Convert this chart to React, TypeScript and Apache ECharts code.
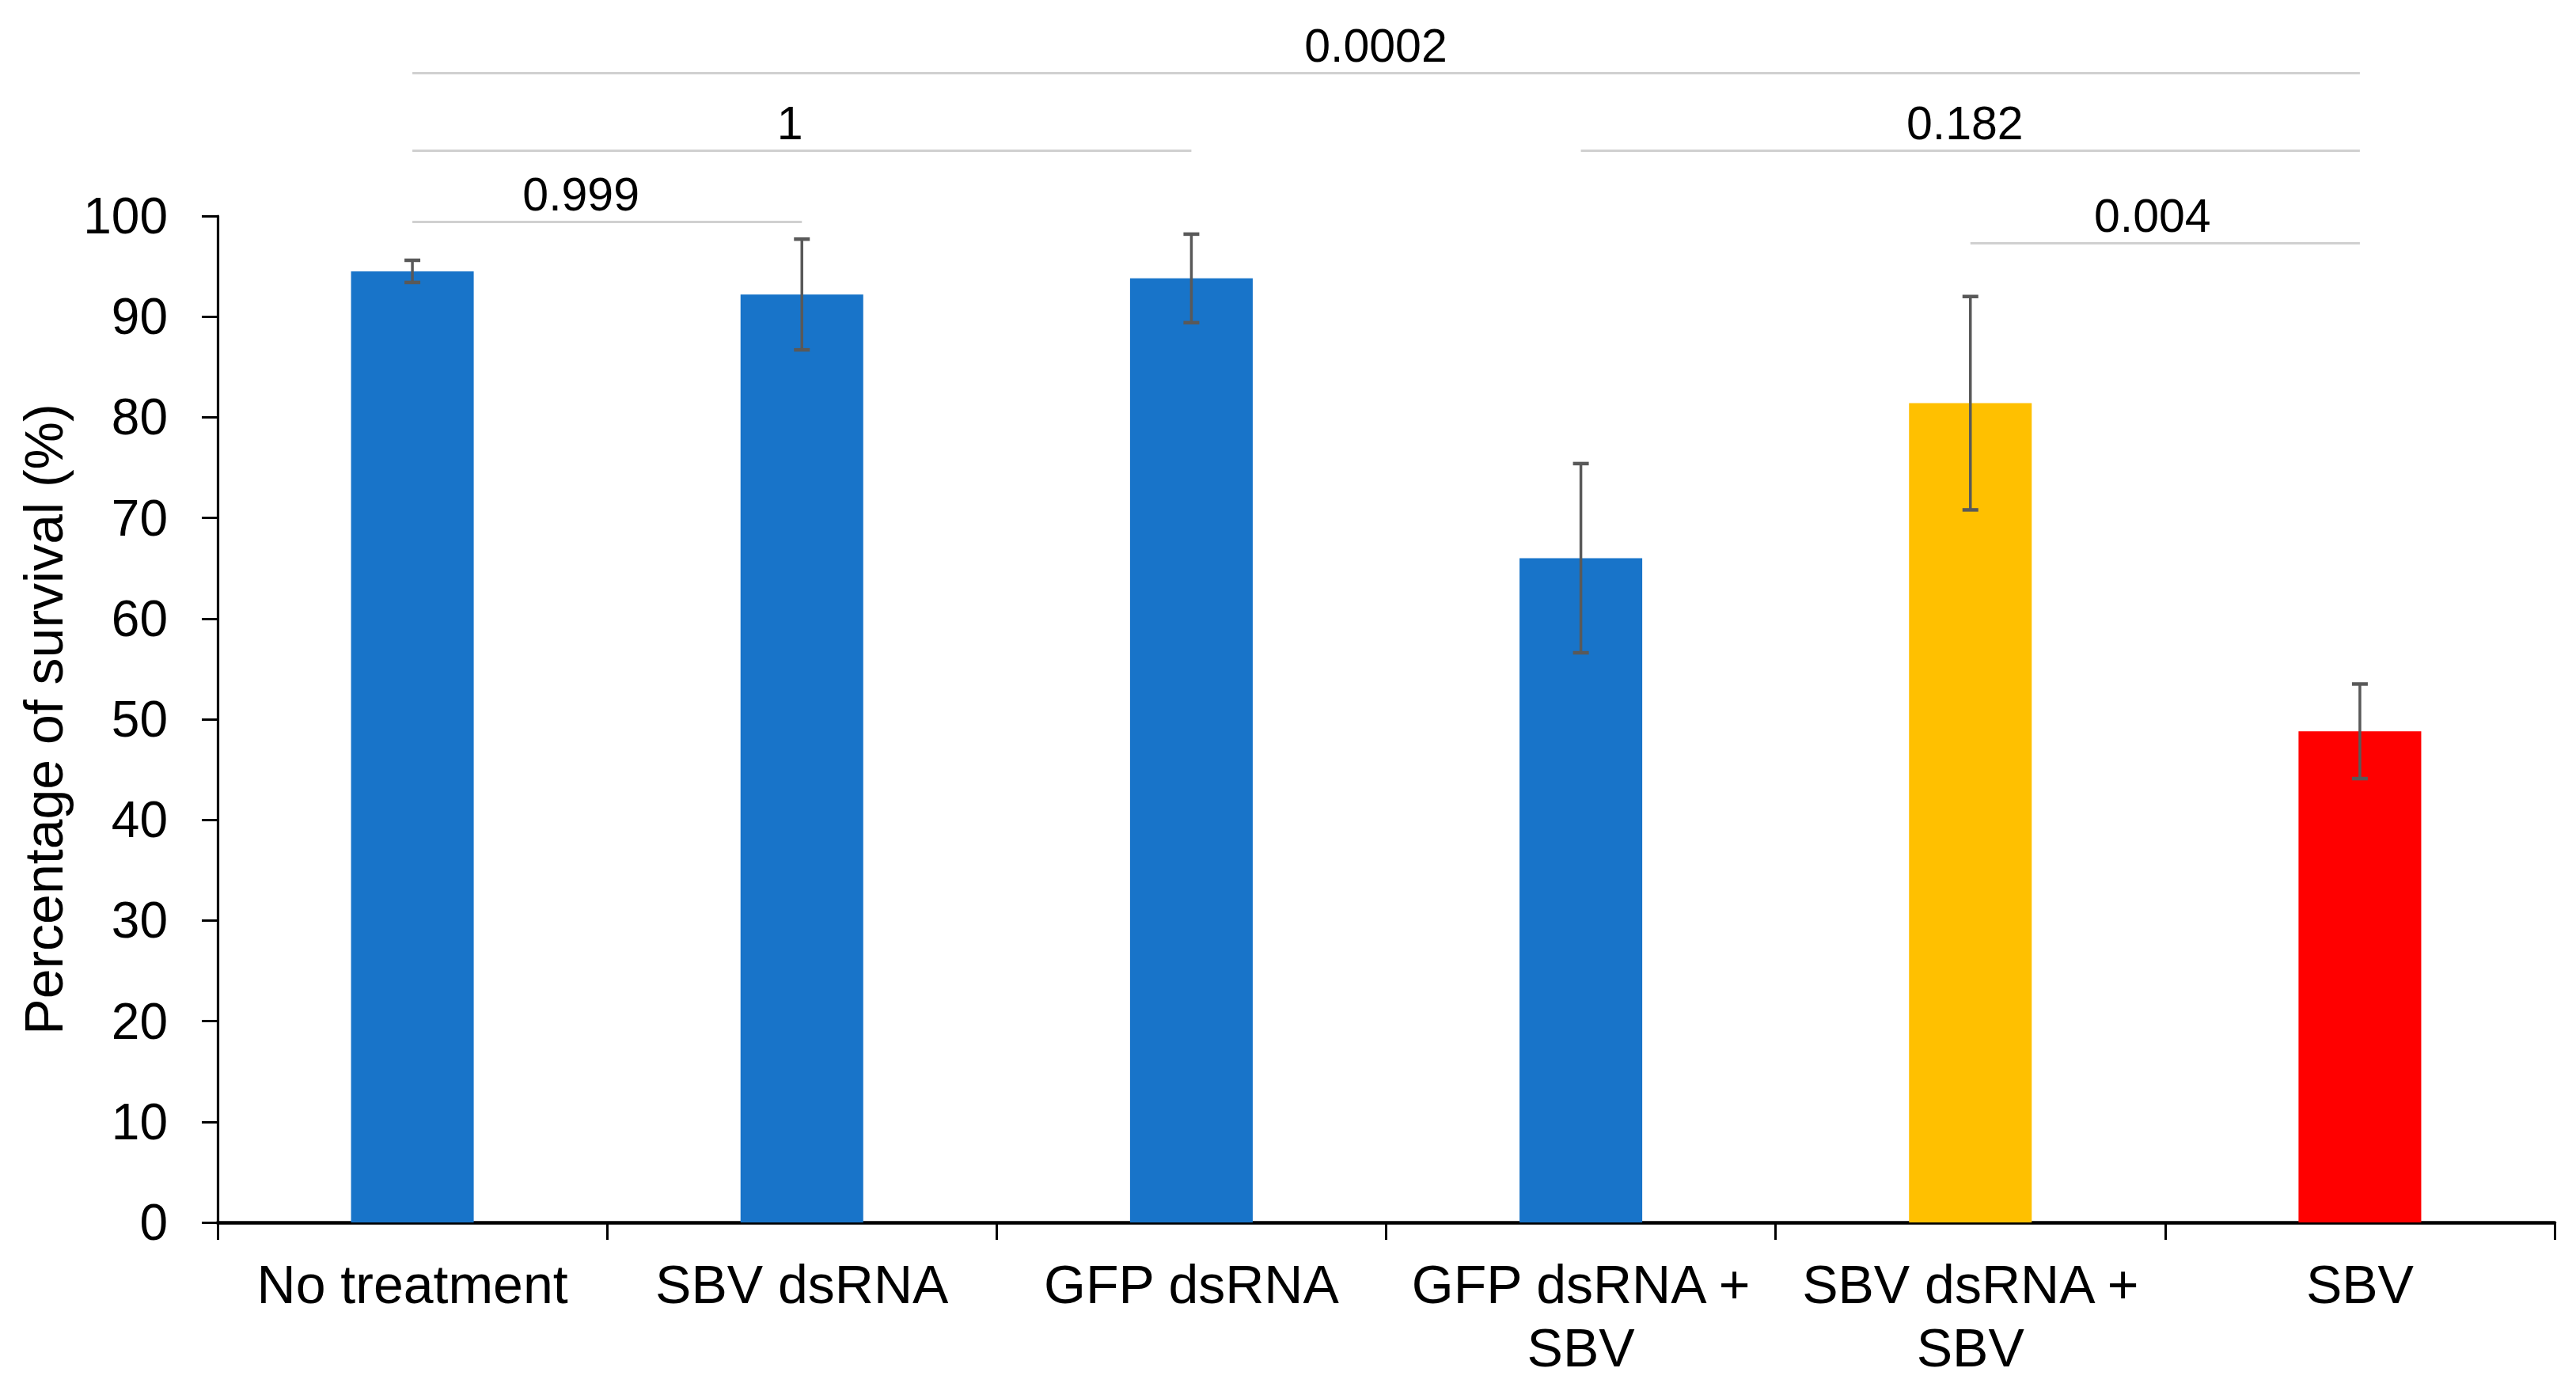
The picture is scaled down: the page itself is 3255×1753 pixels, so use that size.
import { useEffect, useRef } from "react";
import * as echarts from "echarts";

const categories = [
  "No treatment",
  "SBV dsRNA",
  "GFP dsRNA",
  "GFP dsRNA +\nSBV",
  "SBV dsRNA +\nSBV",
  "SBV",
];
const survival = [94.5, 92.2, 93.8, 66.0, 81.4, 48.8];
const survivalErr = [1.1, 5.5, 4.4, 9.4, 10.6, 4.7];
const barColors = ["#1874C9", "#1874C9", "#1874C9", "#1874C9", "#FFC000", "#FF0000"];
const yTicks = [0, 10, 20, 30, 40, 50, 60, 70, 80, 90, 100];

// p-value brackets: [from category, to category, height (in % units), label]
const brackets: [number, number, number, string][] = [
  [0, 5, 114.2, "0.0002"],
  [0, 2, 106.5, "1"],
  [0, 1, 99.4, "0.999"],
  [3, 5, 106.5, "0.182"],
  [4, 5, 97.3, "0.004"],
];
// small horizontal nudges of the bracket labels (px), as in the original figure
const bracketLabelShift = [-13, -15, -33, -7, -16];

const FONT = "'Liberation Sans', Arial, sans-serif";

export default function App() {
  const chartRef = useRef<HTMLDivElement>(null);

  useEffect(() => {
    if (!chartRef.current) return;
    const chart = echarts.init(chartRef.current, null, { renderer: "svg" });

    const errData = survival.map((v, i) => [i, v - survivalErr[i], v + survivalErr[i]]);

    const option: any = {
      animation: false,
      backgroundColor: "#ffffff",
      textStyle: { fontFamily: FONT },
      grid: [
        { left: 267, right: 19, top: 265, bottom: 200 },
        { left: 267, right: 19, top: 10.6, bottom: 200 },
      ],
      xAxis: [
        {
          type: "category",
          gridIndex: 0,
          data: categories,
          axisLine: { lineStyle: { color: "#000", width: 4.5 } },
          axisTick: { show: true, length: 22, interval: 0, lineStyle: { color: "#000", width: 3 } },
          axisLabel: {
            interval: 0,
            margin: 38,
            fontSize: 68,
            lineHeight: 80,
            color: "#000",
            fontFamily: FONT,
          },
        },
        {
          type: "category",
          gridIndex: 1,
          data: categories,
          show: false,
        },
      ],
      yAxis: [
        {
          type: "value",
          gridIndex: 0,
          min: 0,
          max: 100,
          interval: 10,
          name: "Percentage of survival (%)",
          nameLocation: "middle",
          nameGap: 186,
          nameTextStyle: { fontSize: 68, color: "#000", fontFamily: FONT },
          axisLine: { show: true, lineStyle: { color: "#000", width: 3.2 } },
          axisTick: { show: true, length: 20, lineStyle: { color: "#000", width: 3 } },
          axisLabel: {
            margin: 63,
            fontSize: 64,
            color: "#000",
            fontFamily: FONT,
            formatter: (v: number) => (yTicks.includes(v) ? String(v) : ""),
          },
          splitLine: { show: false },
        },
        {
          type: "value",
          gridIndex: 1,
          min: 0,
          max: 120,
          show: false,
          splitLine: { show: false },
        },
      ],
      series: [
        {
          type: "bar",
          xAxisIndex: 0,
          yAxisIndex: 0,
          barWidth: "31.5%",
          data: survival.map((v, i) => ({ value: v, itemStyle: { color: barColors[i] } })),
          silent: true,
        },
        {
          type: "custom",
          xAxisIndex: 0,
          yAxisIndex: 0,
          z: 5,
          silent: true,
          encode: { x: 0, y: [1, 2] },
          data: errData,
          renderItem: (_params: any, api: any) => {
            const x = api.value(0);
            const lo = api.coord([x, api.value(1)]);
            const hi = api.coord([x, api.value(2)]);
            const cap = 10;
            const stroke = "#595959";
            return {
              type: "group",
              children: [
                {
                  type: "line",
                  shape: { x1: hi[0], y1: hi[1], x2: lo[0], y2: lo[1] },
                  style: { stroke, lineWidth: 3.5 },
                },
                {
                  type: "line",
                  shape: { x1: hi[0] - cap, y1: hi[1], x2: hi[0] + cap, y2: hi[1] },
                  style: { stroke, lineWidth: 4.5 },
                },
                {
                  type: "line",
                  shape: { x1: lo[0] - cap, y1: lo[1], x2: lo[0] + cap, y2: lo[1] },
                  style: { stroke, lineWidth: 4.5 },
                },
              ],
            };
          },
        },
        {
          type: "line",
          xAxisIndex: 1,
          yAxisIndex: 1,
          data: categories.map(() => "-"),
          showSymbol: false,
          silent: true,
          lineStyle: { opacity: 0 },
          markLine: {
            silent: true,
            symbol: ["none", "none"],
            lineStyle: { color: "#d0d0d0", width: 3, type: "solid" },
            label: {
              show: true,
              position: "middle",
              formatter: "{b}",
              color: "#000",
              fontSize: 59,
              fontFamily: FONT,
              distance: 5,
            },
            emphasis: { disabled: true },
            data: brackets.map(([a, b, h, txt], i) => [
              { coord: [a, h], name: txt, label: { offset: [bracketLabelShift[i], 0] } },
              { coord: [b, h] },
            ]),
          },
        },
      ],
    };

    chart.setOption(option);
    return () => {
      chart.dispose();
    };
  }, []);

  return <div ref={chartRef} style={{ width: "3239px", height: "1737px" }} />;
}
